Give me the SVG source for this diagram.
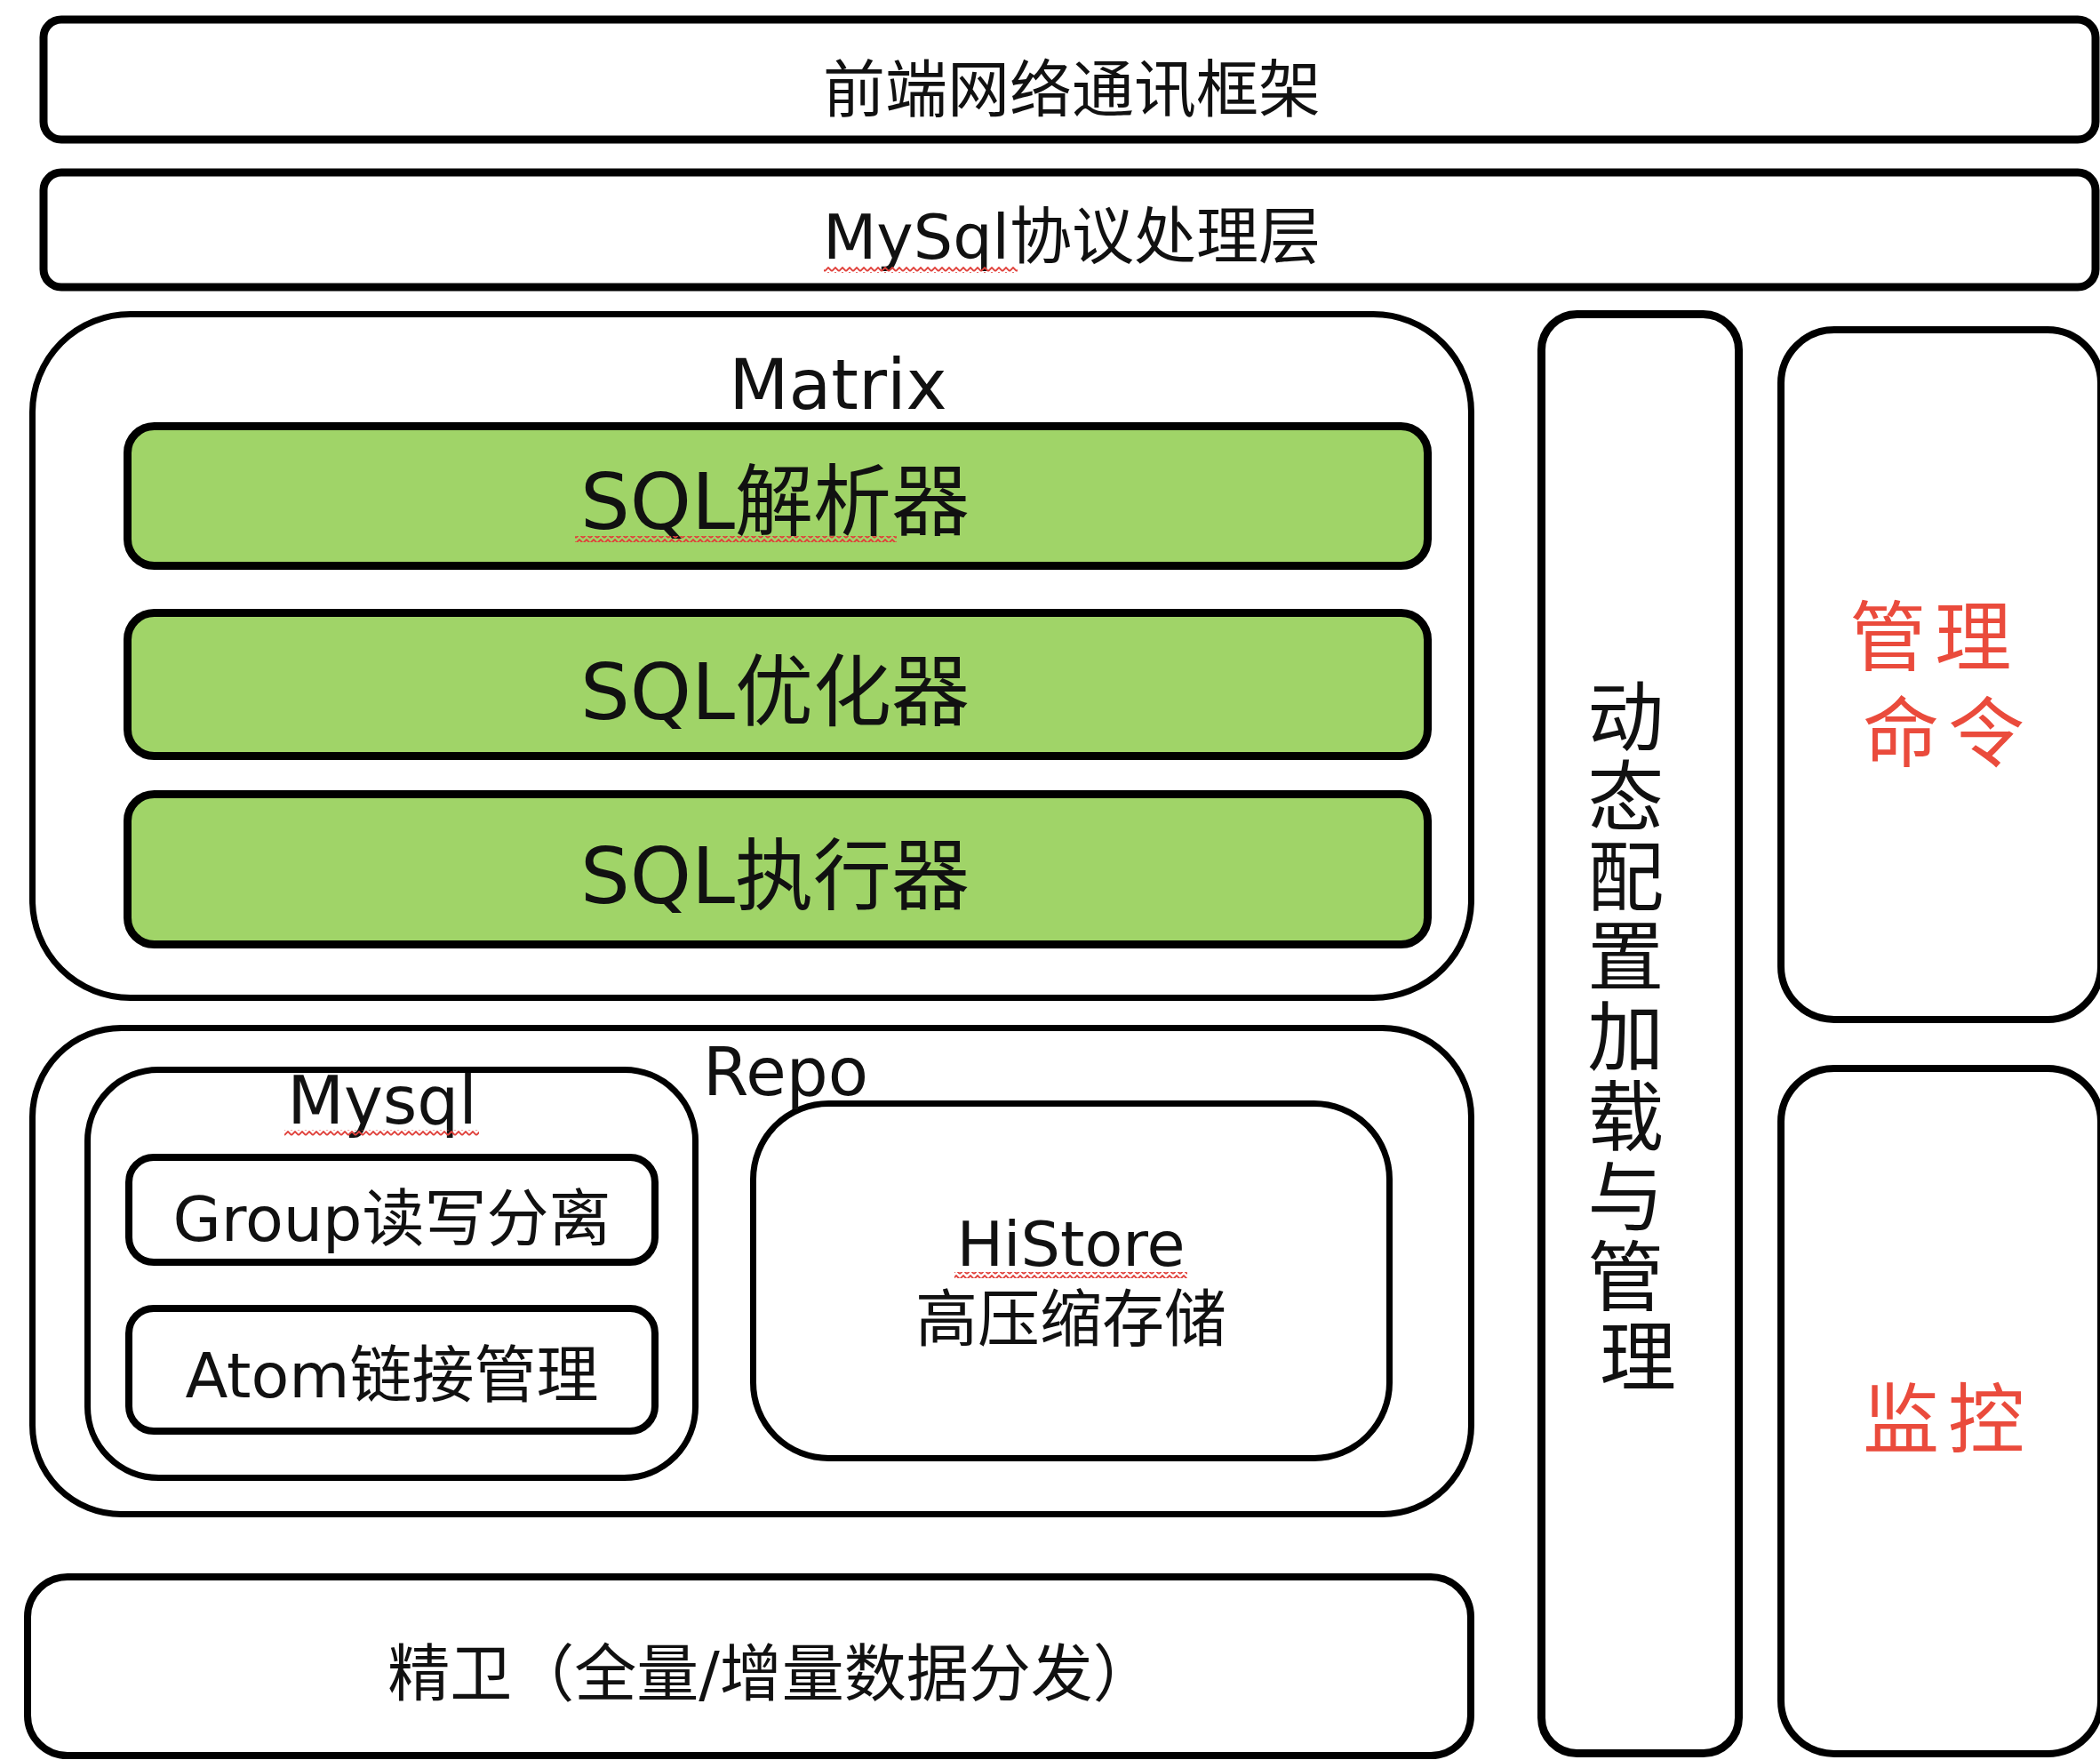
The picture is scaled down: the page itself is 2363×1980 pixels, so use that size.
<svg xmlns="http://www.w3.org/2000/svg" width="2363" height="1980" viewBox="0 0 2363 1980">
<defs>
<style>
.box{fill:#ffffff;stroke:#000000;}
.green{fill:#a0d468;stroke:#000000;stroke-width:9;}
.t{font-family:'DejaVu Sans','Noto Sans CJK SC',sans-serif;fill:#111111;text-anchor:middle;}
.red{font-family:'Noto Sans CJK SC',sans-serif;fill:#ea4b3c;text-anchor:middle;}
.sq{fill:url(#squiggle);}
</style>
<pattern id="squiggle" x="0" y="0" width="8" height="6" patternUnits="userSpaceOnUse">
<polyline points="0,5 4,1 8,5" fill="none" stroke="#e0403a" stroke-width="1.8"/>
</pattern>
</defs>
<rect width="2363" height="1980" fill="#ffffff"/>

<g id="frontend-network">
<rect class="box" x="49" y="22" width="2309" height="135" rx="20" stroke-width="9"/>
<text class="t" x="1206" y="126" font-size="70">前端网络通讯框架</text>
</g>

<g id="mysql-protocol">
<rect class="box" x="49" y="194" width="2309" height="129" rx="20" stroke-width="9"/>
<text class="t" x="1206" y="291" font-size="70">MySql协议处理层</text>
<rect class="sq" x="927" y="300" width="218" height="7"/>
</g>

<g id="matrix">
<rect class="box" x="36.5" y="353.5" width="1619" height="769" rx="110" stroke-width="7"/>
<text class="t" x="943" y="460" font-size="78">Matrix</text>
</g>

<g id="sql-parser">
<rect class="green" x="143.5" y="479.5" width="1463" height="157" rx="30"/>
<text class="t" x="872" y="595" font-size="88">SQL解析器</text>
<rect class="sq" x="647" y="603" width="362" height="7"/>
</g>

<g id="sql-optimizer">
<rect class="green" x="143.5" y="689.5" width="1463" height="161" rx="30"/>
<text class="t" x="872" y="809" font-size="88">SQL优化器</text>
</g>

<g id="sql-executor">
<rect class="green" x="143.5" y="893.5" width="1463" height="169" rx="30"/>
<text class="t" x="872" y="1016" font-size="88">SQL执行器</text>
</g>

<g id="repo">
<rect class="box" x="36.5" y="1156.5" width="1619" height="547" rx="100" stroke-width="7"/>
</g>

<g id="mysql">
<rect class="box" x="98.5" y="1203.5" width="684" height="459" rx="80" stroke-width="7"/>
<text class="t" x="430" y="1264" font-size="74">Mysql</text>
<rect class="sq" x="320" y="1271" width="219" height="7"/>
</g>

<g id="group">
<rect class="box" x="145" y="1302" width="592" height="118" rx="28" stroke-width="8"/>
<text class="t" x="441" y="1396" font-size="70">Group读写分离</text>
</g>

<g id="atom">
<rect class="box" x="145" y="1472" width="592" height="138" rx="28" stroke-width="8"/>
<text class="t" x="441" y="1572" font-size="70">Atom链接管理</text>
</g>

<g id="histore">
<rect class="box" x="847.5" y="1241.5" width="716" height="399" rx="85" stroke-width="7"/>
<text class="t" x="1205" y="1424" font-size="70">HiStore</text>
<rect class="sq" x="1074" y="1431" width="262" height="7"/>
<text class="t" x="1205" y="1509" font-size="70">高压缩存储</text>
</g>

<g id="repo-label">
<text class="t" x="884" y="1232" font-size="74">Repo</text>
</g>

<g id="jingwei">
<rect class="box" x="31" y="1774" width="1624" height="201" rx="45" stroke-width="8"/>
<text class="t" x="868" y="1908" font-size="70">精卫（全量/增量数据分发）</text>
</g>

<g id="dynamic-config">
<rect class="box" x="1734.5" y="353.5" width="222" height="1619" rx="40" stroke-width="9"/>
<text class="t" font-size="86" font-family="'Noto Sans CJK SC',sans-serif">
<tspan x="1843" y="838">动</tspan>
<tspan x="1843" y="928">态</tspan>
<tspan x="1843" y="1018">配</tspan>
<tspan x="1843" y="1108">置</tspan>
<tspan x="1843" y="1198">加</tspan>
<tspan x="1843" y="1288">载</tspan>
<tspan x="1843" y="1378">与</tspan>
<tspan x="1843" y="1468">管</tspan>
<tspan x="1843" y="1558">理</tspan>
</text>
</g>

<g id="admin-commands">
<rect class="box" x="2004" y="371" width="360" height="776" rx="60" stroke-width="8"/>
<text class="red" font-size="86" letter-spacing="10">
<tspan x="2192" y="748">管理</tspan>
<tspan x="2192" y="856">命令</tspan>
</text>
</g>

<g id="monitor">
<rect class="box" x="2004" y="1202" width="360" height="771" rx="60" stroke-width="8"/>
<text class="red" font-size="86" letter-spacing="10" x="2192" y="1628">监控</text>
</g>

<g id="connectors"></g>
</svg>
